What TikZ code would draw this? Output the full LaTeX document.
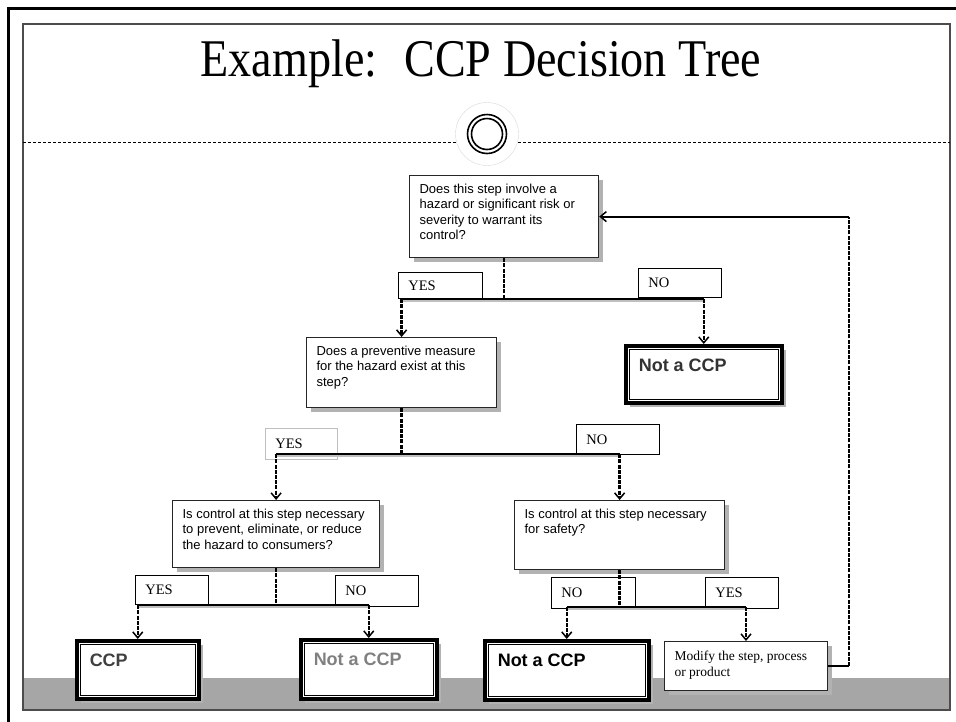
\documentclass[tikz,border=0pt]{standalone}
\usepackage{graphicx}
\usepackage{fontspec}
\setmainfont{Liberation Serif}
\newfontfamily\arialfont{Liberation Sans}
\usetikzlibrary{arrows.meta,shadows}

\newcommand{\boxtext}[3]{\parbox[c][#2][t]{#1}{\raggedright #3}}

\begin{document}
\begin{tikzpicture}[x=1pt,y=-1pt,
    qbox/.style={draw=black!85, line width=1.2pt, fill=white, anchor=north west,
      inner xsep=10pt, inner ysep=8pt, font=\arialfont\fontsize{13}{15.5}\selectfont,
      drop shadow={shadow xshift=4pt, shadow yshift=-4pt, fill=black!30, opacity=1}},
    endbox/.style={draw=black, line width=3.5pt, fill=white, anchor=north west,
      inner xsep=13pt, inner ysep=13pt, font=\arialfont\bfseries\fontsize{18}{21}\selectfont,
      drop shadow={shadow xshift=4pt, shadow yshift=-4pt, fill=black!30, opacity=1}},
    mbox/.style={draw=black!85, line width=1pt, fill=white, anchor=north west,
      inner xsep=10pt, inner ysep=9pt, font=\fontsize{13.5}{16.5}\selectfont,
      drop shadow={shadow xshift=4pt, shadow yshift=-4pt, fill=black!30, opacity=1}},
    lbl/.style={draw=black, line width=0.8pt, fill=white, anchor=north west,
      inner xsep=10pt, inner ysep=0pt, align=left, font=\fontsize{14.5}{16}\selectfont},
    vline/.style={line width=2.5pt, dash pattern=on 4pt off 1.2pt},
    hline/.style={line width=2pt, preaction={draw=black!25, line width=2pt, transform canvas={yshift=-2pt}}},
    arr/.style={-{Straight Barb[length=6pt,width=10pt,line width=1.5pt]}}
  ]
  \useasboundingbox (0,0) rectangle (956,721);

  % slide frame
  \draw[line width=3pt] (8,740) -- (8,8) -- (970,8);
  \fill[black!35] (23,678) rectangle (950,710);
  \draw[black!70, line width=1.2pt] (23,24) rectangle (950,710);
  \draw[line width=0.8pt, dash pattern=on 3pt off 2pt] (23,142) -- (950,142);
  \node[circle, draw=black!15, fill=white, minimum size=63pt, inner sep=0pt] (orn) at (487,134) {};
  \draw[line width=1.6pt] (orn.center) circle (19.5pt);
  \draw[line width=1.6pt] (orn.center) circle (15.5pt);

  \node[anchor=base, font=\fontsize{53}{60}\selectfont] (title) at (481,76)
    {\scalebox{0.87}[1]{Example:~ CCP Decision Tree}};

  % questions
  \node[qbox] (q1) at (409,175) {\boxtext{169pt}{66pt}{Does this step involve a\\hazard or significant risk or\\severity to warrant its\\control?}};
  \node[qbox] (q2) at (306,337) {\boxtext{170pt}{54pt}{Does a preventive measure\\for the hazard exist at this\\step?}};
  \node[qbox] (q3) at (172,500) {\boxtext{187pt}{51pt}{Is control at this step necessary\\to prevent, eliminate, or reduce\\the hazard to consumers?}};
  \node[qbox] (q4) at (514,500) {\boxtext{190pt}{53pt}{Is control at this step necessary\\for safety?}};

  % outcomes
  \node[endbox, text=black!80] (e1) at (624,344) {\boxtext{130pt}{31pt}{Not a CCP}};
  \node[endbox, text=black!75] (e2) at (75,639) {\boxtext{96pt}{32pt}{CCP}};
  \node[endbox, text=black!50] (e3) at (299,638) {\boxtext{110pt}{33pt}{Not a CCP}};
  \node[endbox] (e4) at (483,639) {\boxtext{138pt}{33pt}{Not a CCP}};
  \foreach \n in {e1,e2,e3,e4}
    \draw[line width=1pt] ([shift={(5pt,-5pt)}]\n.north west) rectangle ([shift={(-5pt,5pt)}]\n.south east);
  \node[mbox] (m1) at (664,641) {\boxtext{143pt}{31pt}{Modify the step, process\\or product}};

  % answers
  \node[lbl, text width=64pt, minimum height=26pt] (y1) at (398,272) {YES};
  \node[lbl, text width=63pt, minimum height=29pt] (n1) at (638,268) {NO};
  \node[lbl, draw=black!25, text width=52pt, minimum height=31pt] (y2) at (265,428) {YES};
  \node[lbl, text width=63pt, minimum height=30pt] (n2) at (576,424) {NO};
  \node[lbl, text width=53pt, minimum height=29pt] (y3) at (135,575) {YES};
  \node[lbl, text width=63pt, minimum height=31pt] (n3) at (335,575) {NO};
  \node[lbl, text width=64pt, minimum height=31pt] (n4) at (551,577) {NO};
  \node[lbl, text width=53pt, minimum height=31pt] (y4) at (705,577) {YES};

  % branches
  \path (q1.south) ++(0,41) coordinate (j1);
  \path (q2.south) ++(0,46) coordinate (j2);
  \path (q3.south) ++(0,37) coordinate (j3);
  \path (q4.south) ++(0,37) coordinate (j4);

  \draw[vline] (q1.south) -- (j1);
  \draw[hline] (q2.north |- j1) -- (e1.north |- j1);
  \draw[vline, arr] (q2.north |- j1) -- (q2.north);
  \draw[vline, arr] (e1.north |- j1) -- (e1.north);

  \draw[vline] (q2.south) -- (j2);
  \draw[hline] (q3.north |- j2) -- (q4.north |- j2);
  \draw[vline, arr] (q3.north |- j2) -- (q3.north);
  \draw[vline, line width=3.5pt, arr] (q4.north |- j2) -- (q4.north);

  \draw[vline] (q3.south) -- (j3);
  \draw[hline] (e2.north |- j3) -- (e3.north |- j3);
  \draw[vline, arr] (e2.north |- j3) -- (e2.north);
  \draw[vline, arr] (e3.north |- j3) -- (e3.north);

  \draw[vline] (q4.south) -- (j4);
  \draw[hline] (e4.north |- j4) -- (m1.north |- j4);
  \draw[vline, line width=2pt, arr] (e4.north |- j4) -- (e4.north);
  \draw[vline, line width=2pt, arr] (m1.north |- j4) -- (m1.north);

  % back to the first question
  \coordinate (rx) at (849,0);
  \draw[line width=2pt] (m1.east) -- (m1.east -| rx);
  \draw[vline, line width=2pt] (m1.east -| rx) -- (q1.east -| rx);
  \draw[line width=2pt, arr] (q1.east -| rx) -- (q1.east);
\end{tikzpicture}
\end{document}
